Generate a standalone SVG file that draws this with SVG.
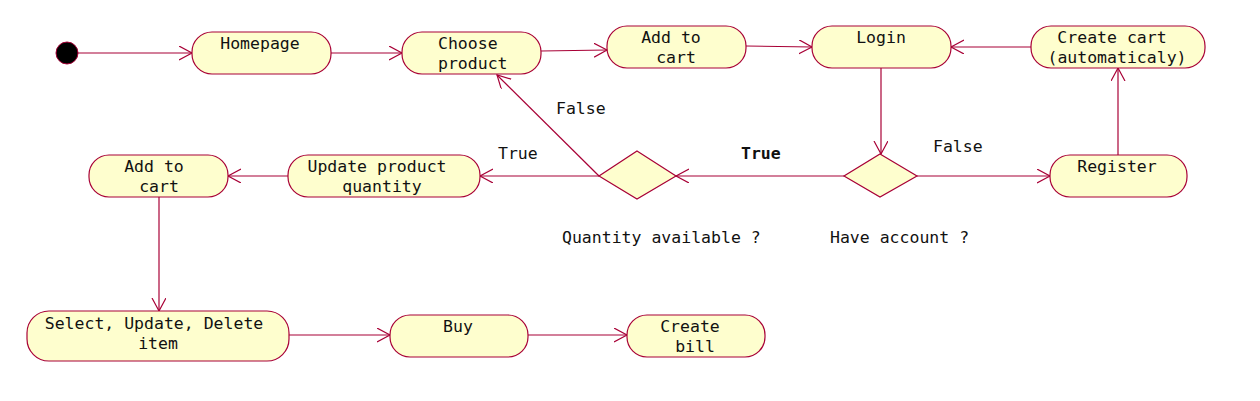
<svg xmlns="http://www.w3.org/2000/svg" width="1260" height="401" viewBox="0 0 1260 401">
<style>
.n{fill:#FEFECE;stroke:#A80036;stroke-width:1.2}
.t{font-family:"DejaVu Sans Mono","Liberation Mono",monospace;font-size:16.5px;fill:#111}
.c{fill:none;stroke:#A80036;stroke-width:1.2}
.m{text-anchor:middle}
</style>
<defs>
<marker id="a" markerUnits="userSpaceOnUse" markerWidth="16" markerHeight="16" refX="13" refY="7" orient="auto">
<path d="M0,0 L13,7 L0,14" fill="none" stroke="#A80036" stroke-width="1.2"/>
</marker>
</defs>
<rect width="1260" height="401" fill="#fff"/>
<g id="connectors">
<path class="c" d="M78,53 L192,53" marker-end="url(#a)"/>
<path class="c" d="M331,53 L402,53" marker-end="url(#a)"/>
<path class="c" d="M541,51 L607,50" marker-end="url(#a)"/>
<path class="c" d="M746,46 L812,47" marker-end="url(#a)"/>
<path class="c" d="M1031,47 L951,47" marker-end="url(#a)"/>
<path class="c" d="M881,68 L881,154" marker-end="url(#a)"/>
<path class="c" d="M844,176 L676,176" marker-end="url(#a)"/>
<path class="c" d="M917,176 L1050,176" marker-end="url(#a)"/>
<path class="c" d="M1118,155 L1118,68" marker-end="url(#a)"/>
<path class="c" d="M599,176 L480,176" marker-end="url(#a)"/>
<path class="c" d="M599,176 L497,75" marker-end="url(#a)"/>
<path class="c" d="M288,176 L228,176" marker-end="url(#a)"/>
<path class="c" d="M159,197 L159,311" marker-end="url(#a)"/>
<path class="c" d="M289,335 L390,335" marker-end="url(#a)"/>
<path class="c" d="M528,335 L627,335" marker-end="url(#a)"/>
<text class="t" x="556" y="114">False</text>
<text class="t" x="741" y="159" font-weight="bold">True</text>
<text class="t" x="933" y="152">False</text>
<text class="t" x="498" y="159">True</text>
</g>
<g id="start"><circle cx="67" cy="53" r="11" fill="#000" stroke="#A80036" stroke-width="1"/></g>
<g id="homepage"><rect class="n" x="192" y="32" width="139" height="42" rx="20"/><text class="t m" x="260" y="49">Homepage</text></g>
<g id="choose"><rect class="n" x="402" y="32" width="139" height="42" rx="20"/><text class="t" x="438" y="49">Choose</text><text class="t" x="438" y="69">product</text></g>
<g id="addcart1"><rect class="n" x="607" y="26" width="139" height="42" rx="20"/><text class="t m" x="671" y="43">Add to</text><text class="t m" x="676" y="63">cart</text></g>
<g id="login"><rect class="n" x="812" y="26" width="139" height="42" rx="20"/><text class="t m" x="881" y="43">Login</text></g>
<g id="createcart"><rect class="n" x="1031" y="26" width="174" height="42" rx="20"/><text class="t m" x="1112" y="43">Create cart</text><text class="t m" x="1117" y="63">(automaticaly)</text></g>
<g id="register"><rect class="n" x="1050" y="155" width="137" height="42" rx="20"/><text class="t m" x="1117" y="172">Register</text></g>
<g id="haveaccount"><path class="n" d="M880,154 L917,176 L880,197 L844,176 Z"/><text class="t" x="830" y="243">Have account ?</text></g>
<g id="qtyavail"><path class="n" d="M637,151 L676,176 L637,199 L599,176 Z"/><text class="t" x="562" y="243">Quantity available ?</text></g>
<g id="updateqty"><rect class="n" x="288" y="155" width="192" height="42" rx="20"/><text class="t m" x="377" y="172">Update product</text><text class="t m" x="382" y="192">quantity</text></g>
<g id="addcart2"><rect class="n" x="89" y="155" width="139" height="42" rx="20"/><text class="t m" x="154" y="172">Add to</text><text class="t m" x="159" y="192">cart</text></g>
<g id="select"><rect class="n" x="27" y="311" width="262" height="50" rx="22"/><text class="t m" x="154" y="329">Select, Update, Delete</text><text class="t m" x="158" y="349">item</text></g>
<g id="buy"><rect class="n" x="390" y="315" width="138" height="42" rx="20"/><text class="t m" x="458" y="332">Buy</text></g>
<g id="createbill"><rect class="n" x="627" y="315" width="138" height="42" rx="20"/><text class="t m" x="690" y="332">Create</text><text class="t m" x="695" y="352">bill</text></g>
</svg>
